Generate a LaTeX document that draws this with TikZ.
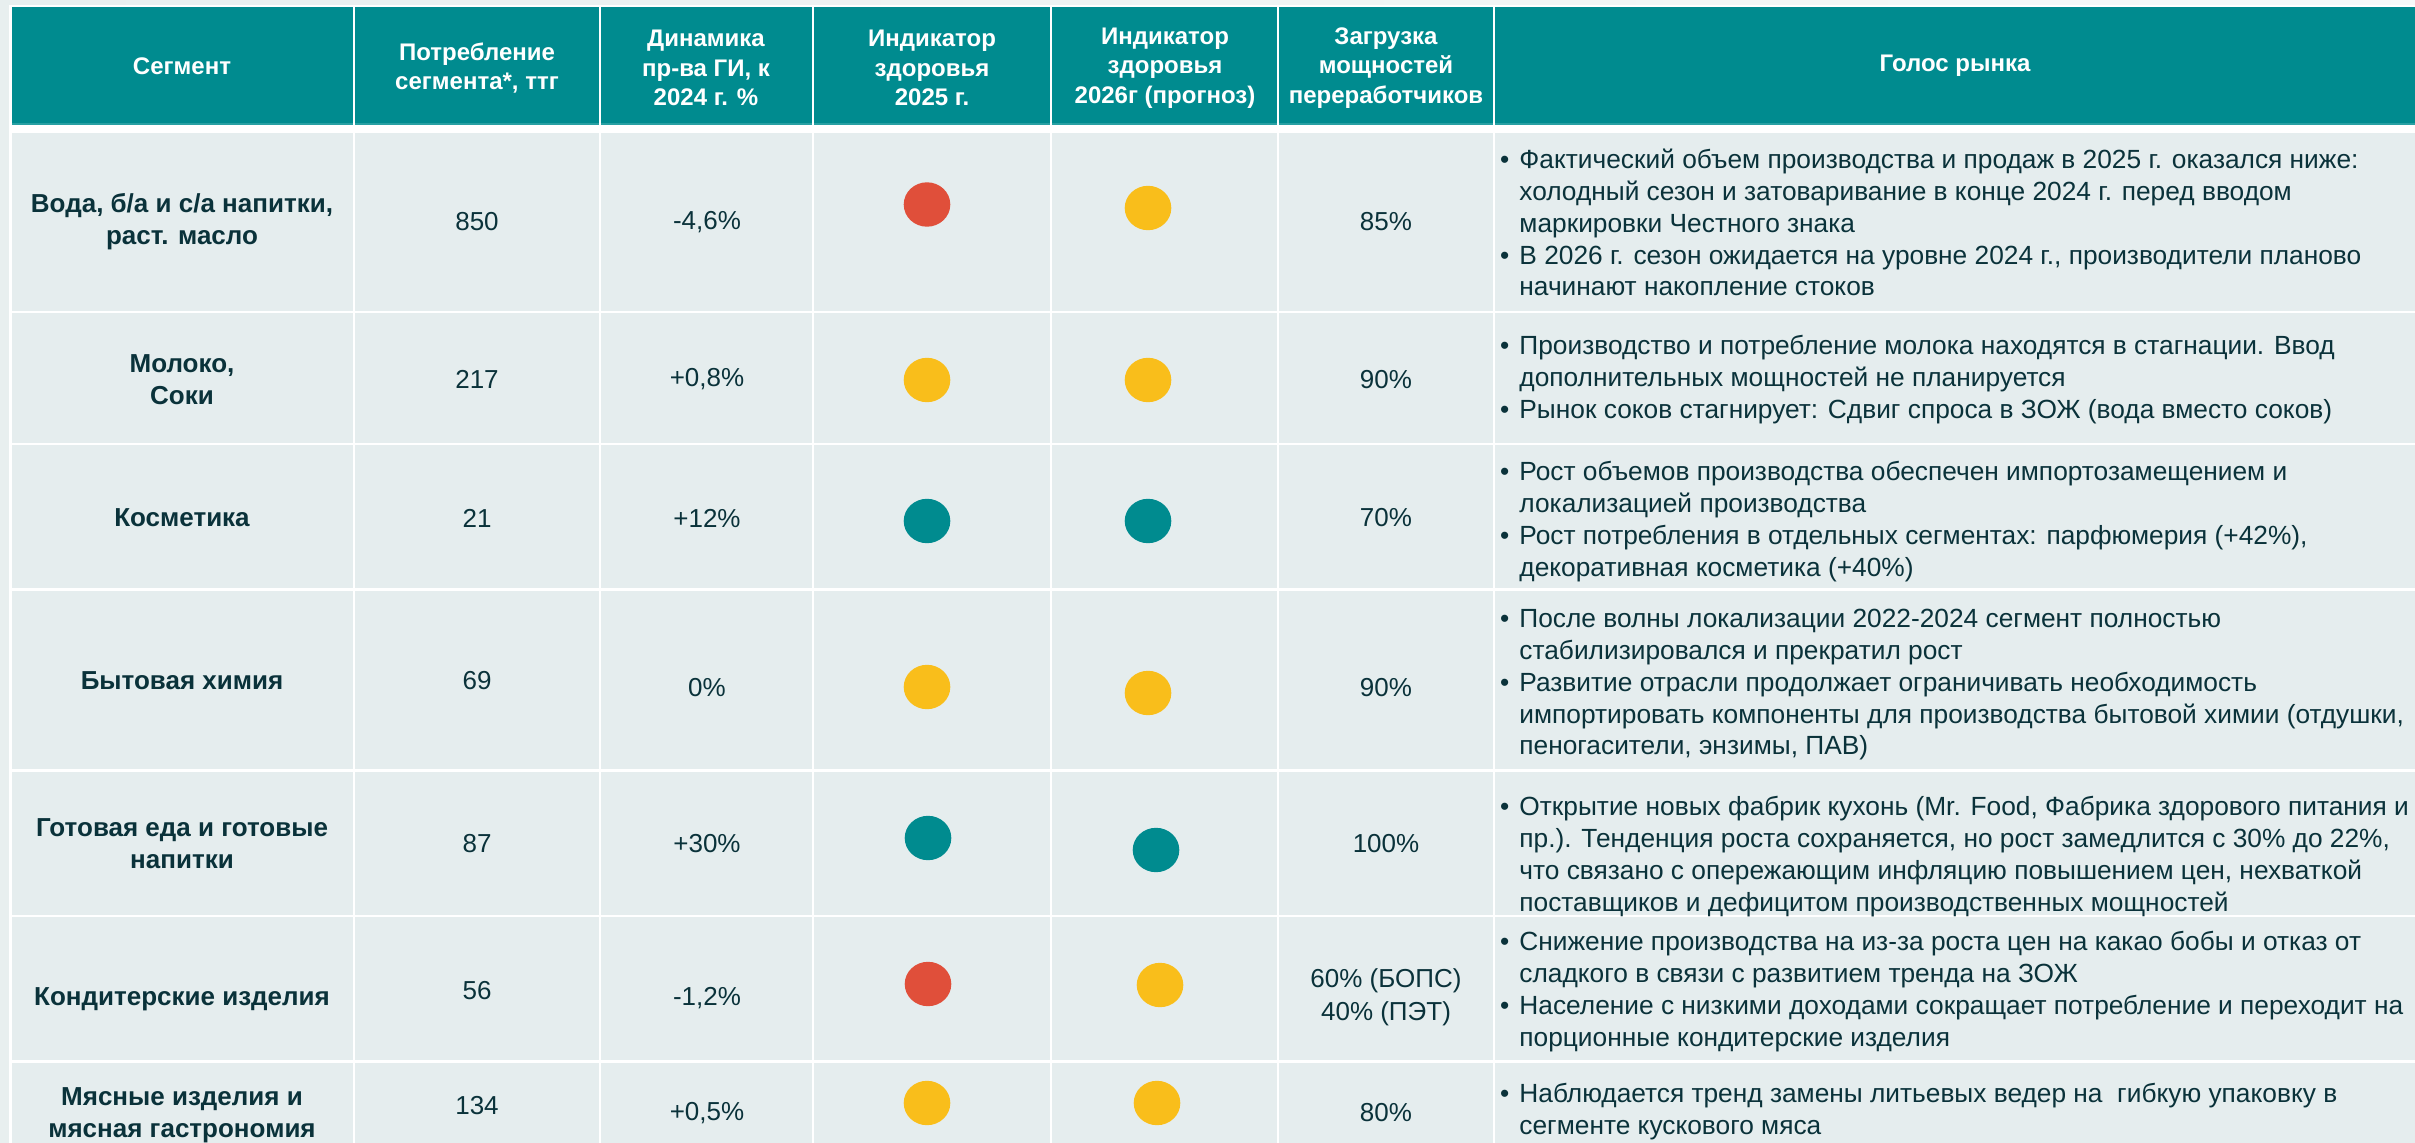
\documentclass[tikz,border=0pt]{standalone}
\usepackage{fontspec}
\setmainfont{Liberation Sans}
\definecolor{teal0}{RGB}{0,139,143}
\definecolor{tealL}{RGB}{40,160,163}
\definecolor{cellbg}{RGB}{229,237,238}
\definecolor{pagebg}{RGB}{232,239,239}
\definecolor{txt}{RGB}{10,50,58}
\definecolor{dotred}{RGB}{224,79,58}
\definecolor{dotyel}{RGB}{249,190,27}
\definecolor{dottea}{RGB}{0,139,143}
\tikzset{
  hdr/.style={font=\bfseries\fontsize{24}{29.5}\selectfont, text=white, align=center, inner sep=0pt},
  seg/.style={font=\bfseries\fontsize{26}{32}\selectfont, text=txt, align=center, inner sep=0pt},
  val/.style={font=\fontsize{26}{33}\selectfont, text=txt, align=center, inner sep=0pt},
  voice/.style={font=\fontsize{26.3}{31.8}\selectfont, text=txt, anchor=west, inner sep=0pt},
  hcell/.style={fill=teal0},
  bcell/.style={fill=cellbg}
}
\newcommand{\vtab}[1]{\begin{tabular}{@{}l@{\hspace{10pt}}l@{}}#1\end{tabular}}
\newcommand{\bl}{\textbullet}
\begin{document}
\begin{tikzpicture}[x=1pt,y=-1pt]
\useasboundingbox (0,0) rectangle (2415,1143);
\fill[pagebg] (0,0) rectangle (2415,1143);
\shade[left color=pagebg, right color=white!60!pagebg] (0,0) rectangle (2415,5.3);
\fill[white] (9.3,5.3) rectangle (2415,1143);
% header cells
\foreach \a/\b in {12/352.7, 355.3/599, 601/812, 814/1050, 1052/1277, 1279/1493, 1495/2415}{
  \fill[hcell] (\a,7.3) rectangle (\b,124);
  \fill[tealL] (\a,123) rectangle (\b,124.5);
}
% body cells
\foreach \t/\u in {132.7/310.7, 313.3/442.7, 445.3/588.3, 591/769, 771.7/914.7, 917.3/1060, 1062.7/1150}{
  \foreach \a/\b in {12/352.7, 355.3/599, 601/812, 814/1050, 1052/1277, 1279/1493, 1495/2415}{
    \fill[bcell] (\a,\t) rectangle (\b,\u);
  }
}
% header texts
\node[hdr] (h1) at (182,66) {Сегмент};
\node[hdr] (h2) at (477,68) {Потребление\\сегмента*, ттг};
\node[hdr] (h3) at (706,68) {Динамика\\пр-ва ГИ, к\\2024 г. \%};
\node[hdr] (h4) at (932,68) {Индикатор\\здоровья\\2025 г.};
\node[hdr] (h5) at (1165,68) {Индикатор\\здоровья\\2026г (прогноз)};
\node[hdr] (h6) at (1386,68) {Загрузка\\мощностей\\переработчиков};
\node[hdr] (h7) at (1955,66) {Голос рынка};
% row 1
\node[seg] (s1) at (182,222) {Вода, б/а и с/а напитки,\\раст. масло};
\node[val] (c1) at (477,222) {850};
\node[val] (d1) at (707,222) {-4,6\%};
\fill[dotred] (927,204.5) ellipse [x radius=23.3, y radius=22.2];
\fill[dotyel] (1148,208) ellipse [x radius=23.3, y radius=22.2];
\node[val] (l1) at (1386,222) {85\%};
\node[voice] (v1) at (1500,226) {\vtab{\bl & Фактический объем производства и продаж в 2025 г. оказался ниже:\\
 & холодный сезон и затоваривание в конце 2024 г. перед вводом\\
 & маркировки Честного знака\\
\bl & В 2026 г. сезон ожидается на уровне 2024 г., производители планово\\
 & начинают накопление стоков}};
% row 2
\node[seg] (s2) at (182,380) {Молоко,\\Соки};
\node[val] (c2) at (477,379) {217};
\node[val] (d2) at (707,379) {+0,8\%};
\fill[dotyel] (927,380) ellipse [x radius=23.3, y radius=22.2];
\fill[dotyel] (1148,380) ellipse [x radius=23.3, y radius=22.2];
\node[val] (l2) at (1386,380) {90\%};
\node[voice] (v2) at (1500,380) {\vtab{\bl & Производство и потребление молока находятся в стагнации. Ввод\\
 & дополнительных мощностей не планируется\\
\bl & Рынок соков стагнирует: Сдвиг спроса в ЗОЖ (вода вместо соков)}};
% row 3
\node[seg] (s3) at (182,518) {Косметика};
\node[val] (c3) at (477,518) {21};
\node[val] (d3) at (707,518) {+12\%};
\fill[dottea] (927,521) ellipse [x radius=23.3, y radius=22.2];
\fill[dottea] (1148,521) ellipse [x radius=23.3, y radius=22.2];
\node[val] (l3) at (1386,518) {70\%};
\node[voice] (v3) at (1500,522) {\vtab{\bl & Рост объемов производства обеспечен импортозамещением и\\
 & локализацией производства\\
\bl & Рост потребления в отдельных сегментах: парфюмерия (+42\%),\\
 & декоративная косметика (+40\%)}};
% row 4
\node[seg] (s4) at (182,681) {Бытовая химия};
\node[val] (c4) at (477,681) {69};
\node[val] (d4) at (707,688) {0\%};
\fill[dotyel] (927,687) ellipse [x radius=23.3, y radius=22.2];
\fill[dotyel] (1148,693) ellipse [x radius=23.3, y radius=22.2];
\node[val] (l4) at (1386,688) {90\%};
\node[voice] (v4) at (1500,685) {\vtab{\bl & После волны локализации 2022-2024 сегмент полностью\\
 & стабилизировался и прекратил рост\\
\bl & Развитие отрасли продолжает ограничивать необходимость\\
 & импортировать компоненты для производства бытовой химии (отдушки,\\
 & пеногасители, энзимы, ПАВ)}};
% row 5
\node[seg] (s5) at (182,844) {Готовая еда и готовые\\напитки};
\node[val] (c5) at (477,844) {87};
\node[val] (d5) at (707,844) {+30\%};
\fill[dottea] (928,838) ellipse [x radius=23.3, y radius=22.2];
\fill[dottea] (1156,850) ellipse [x radius=23.3, y radius=22.2];
\node[val] (l5) at (1386,844) {100\%};
\node[voice] (v5) at (1500,857) {\vtab{\bl & Открытие новых фабрик кухонь (Mr. Food, Фабрика здорового питания и\\
 & пр.). Тенденция роста сохраняется, но рост замедлится с 30\% до 22\%,\\
 & что связано с опережающим инфляцию повышением цен, нехваткой\\
 & поставщиков и дефицитом производственных мощностей}};
% row 6
\node[seg] (s6) at (182,999) {Кондитерские изделия};
\node[val] (c6) at (477,991) {56};
\node[val] (d6) at (707,998) {-1,2\%};
\fill[dotred] (928,984) ellipse [x radius=23.3, y radius=22.2];
\fill[dotyel] (1160,985) ellipse [x radius=23.3, y radius=22.2];
\node[val] (l6) at (1386,997) {60\% (БОПС)\\40\% (ПЭТ)};
\node[voice] (v6) at (1500,992) {\vtab{\bl & Снижение производства на из-за роста цен на какао бобы и отказ от\\
 & сладкого в связи с развитием тренда на ЗОЖ\\
\bl & Население с низкими доходами сокращает потребление и переходит на\\
 & порционные кондитерские изделия}};
% row 7
\node[seg] (s7) at (182,1115) {Мясные изделия и\\мясная гастрономия};
\node[val] (c7) at (477,1106) {134};
\node[val] (d7) at (707,1113) {+0,5\%};
\fill[dotyel] (927,1103) ellipse [x radius=23.3, y radius=22.2];
\fill[dotyel] (1157,1103) ellipse [x radius=23.3, y radius=22.2];
\node[val] (l7) at (1386,1113) {80\%};
\node[voice] (v7) at (1500,1112) {\vtab{\bl & Наблюдается тренд замены литьевых ведер на \ гибкую упаковку в\\
 & сегменте кускового мяса}};
\end{tikzpicture}
\end{document}
